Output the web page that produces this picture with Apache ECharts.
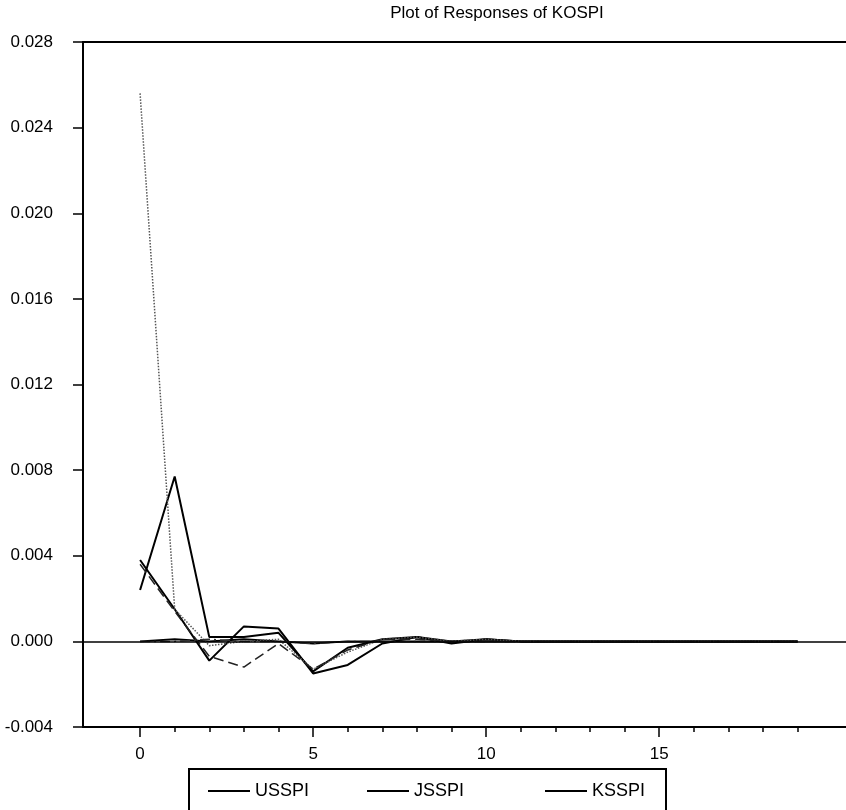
<!DOCTYPE html>
<html>
<head>
<meta charset="utf-8">
<title>Plot of Responses of KOSPI</title>
<script src="https://cdn.jsdelivr.net/npm/echarts@6/dist/echarts.min.js"></script>
<style>
  html, body { margin: 0; padding: 0; background: #fff; }
  #chart { width: 846px; height: 810px; }
</style>
</head>
<body>
<div id="chart"></div>
<script>
// response horizon (steps)
const periods = [0, 1, 2, 3, 4, 5, 6, 7, 8, 9, 10, 11, 12, 13, 14, 15, 16, 17, 18, 19]
const xLabelValues = [0, 5, 10, 15]
const xMinorTicks = periods

// responses of KOSPI to each shock
const usspi = [0.0024, 0.0077, 0.0002, 0.0002, 0.0004, -0.0014, -0.0003, 0.0001, 0.0002, 0.0000, 0.0001, 0.0000, 0.0000, 0.0000, 0.0000, 0.0000, 0.0000, 0.0000, 0.0000, 0.0000]
const jsspi = [0.0038, 0.0015, -0.0009, 0.0007, 0.0006, -0.0015, -0.0011, -0.0001, 0.0002, -0.0001, 0.0001, 0.0000, 0.0000, 0.0000, 0.0000, 0.0000, 0.0000, 0.0000, 0.0000, 0.0000]
const ksspi = [0.0000, 0.0001, 0.0000, 0.0001, 0.0000, -0.0001, 0.0000, 0.0000, 0.0000, 0.0000, 0.0000, 0.0000, 0.0000, 0.0000, 0.0000, 0.0000, 0.0000, 0.0000, 0.0000, 0.0000]
const kospi = [0.0256, 0.0015, -0.0002, 0.0000, 0.0001, -0.0013, -0.0005, 0.0001, 0.0002, 0.0000, 0.0001, 0.0000, 0.0000, 0.0000, 0.0000, 0.0000, 0.0000, 0.0000, 0.0000, 0.0000]
const exrate = [0.0036, 0.0014, -0.0007, -0.0012, -0.0001, -0.0013, -0.0004, 0.0001, 0.0001, 0.0000, 0.0000, 0.0000, 0.0000, 0.0000, 0.0000, 0.0000, 0.0000, 0.0000, 0.0000, 0.0000]
const callrate = [0.0000, 0.0000, 0.0001, 0.0000, 0.0000, -0.0001, 0.0000, 0.0000, 0.0000, 0.0000, 0.0000, 0.0000, 0.0000, 0.0000, 0.0000, 0.0000, 0.0000, 0.0000, 0.0000, 0.0000]

const FONT = '"Liberation Sans Narrow", "Arial Narrow", "Liberation Sans", sans-serif'

const chart = echarts.init(document.getElementById('chart'))

function pairs(arr) {
  return periods.map((p, i) => [p, arr[i]])
}

function lineSeries(name, data, type, width, color) {
  return {
    name: name,
    type: 'line',
    xAxisIndex: 0,
    yAxisIndex: 0,
    symbol: 'none',
    smooth: false,
    lineStyle: { color: color, width: width, type: type },
    itemStyle: { color: color },
    data: pairs(data)
  }
}

const legendText = { color: '#000', fontSize: 18, fontFamily: FONT }
function legendCol(left, names) {
  return {
    type: 'plain',
    orient: 'vertical',
    left: left,
    top: 777,
    height: 80,
    icon: 'rect',
    itemWidth: 42,
    itemHeight: 2,
    itemGap: 10,
    selectedMode: false,
    textStyle: legendText,
    data: names
  }
}

const series = [
  lineSeries('USSPI', usspi, 'solid', 2, '#000'),
  lineSeries('JSSPI', jsspi, 'solid', 2, '#000'),
  lineSeries('KSSPI', ksspi, 'solid', 2, '#000'),
  lineSeries('KOSPI', kospi, 'dotted', 1.5, '#555'),
  lineSeries('EXRATE', exrate, [10, 5], 1.5, '#222'),
  lineSeries('CALLRATE', callrate, [10, 4, 2, 4], 1.5, '#333')
]
// zero reference line
series[0].markLine = {
  silent: true,
  symbol: 'none',
  label: { show: false },
  lineStyle: { color: '#000', width: 1.5, type: 'solid' },
  data: [{ yAxis: 0 }]
}

const option = {
  animation: false,
  backgroundColor: '#fff',
  title: {
    text: 'Plot of Responses of KOSPI',
    left: 492,
    textAlign: 'center',
    top: 0,
    textStyle: { color: '#000', fontSize: 17, fontWeight: 'normal', fontFamily: FONT }
  },
  legend: [
    legendCol(203, ['USSPI', 'KOSPI']),
    legendCol(362, ['JSSPI', 'EXRATE']),
    legendCol(540, ['KSSPI', 'CALLRATE'])
  ],
  graphic: [
    {
      type: 'rect',
      shape: { x: 189, y: 769, width: 477, height: 70 },
      style: { fill: 'none', stroke: '#000', lineWidth: 2 },
      silent: true
    }
  ],
  grid: { left: 83, top: 42, right: 0, bottom: 83, containLabel: false },
  xAxis: [
    {
      type: 'value',
      position: 'bottom',
      min: -1.65,
      max: 20.4,
      axisLine: { show: true, onZero: false, lineStyle: { color: '#000', width: 2 } },
      axisTick: { show: true, inside: false, length: 10, customValues: xLabelValues, lineStyle: { color: '#000', width: 1.5 } },
      axisLabel: { show: true, customValues: xLabelValues, margin: 19, color: '#000', fontSize: 17, fontFamily: FONT },
      splitLine: { show: false }
    },
    {
      type: 'value',
      position: 'bottom',
      min: -1.65,
      max: 20.4,
      axisLine: { show: false, onZero: false },
      axisTick: { show: true, inside: false, length: 5, customValues: xMinorTicks, lineStyle: { color: '#000', width: 1.5 } },
      axisLabel: { show: false },
      splitLine: { show: false }
    },
    {
      type: 'value',
      position: 'top',
      min: -1.65,
      max: 20.4,
      axisLine: { show: true, onZero: false, lineStyle: { color: '#000', width: 2 } },
      axisTick: { show: false },
      axisLabel: { show: false },
      splitLine: { show: false }
    }
  ],
  yAxis: {
    type: 'value',
    position: 'left',
    min: -0.004,
    max: 0.028,
    interval: 0.004,
    axisLine: { show: true, onZero: false, lineStyle: { color: '#000', width: 2 } },
    axisTick: { show: true, inside: false, length: 10, lineStyle: { color: '#000', width: 1.5 } },
    axisLabel: {
      margin: 30,
      color: '#000',
      fontSize: 17,
      fontFamily: FONT,
      formatter: v => v.toFixed(3)
    },
    splitLine: { show: false }
  },
  series: series
}

chart.setOption(option)
</script>
</body>
</html>
